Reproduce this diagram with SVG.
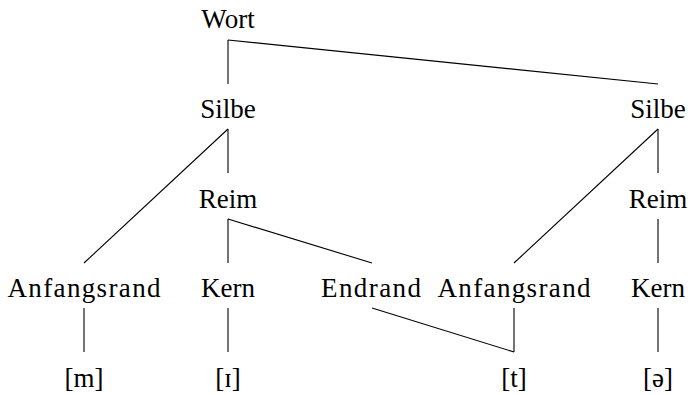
<svg xmlns="http://www.w3.org/2000/svg" width="690" height="395" viewBox="0 0 690 395">
<style>
text{font-family:"Liberation Serif","Times New Roman",serif;font-size:27px;fill:#000;text-anchor:middle}
.e line{stroke:#000;stroke-width:1.1;fill:none}
</style>
<rect width="690" height="395" fill="#fff"/>
<g class="e" id="connectors">
<line x1="228" y1="40" x2="228" y2="84"/>
<line x1="228" y1="40" x2="658" y2="84"/>
<line x1="228" y1="129" x2="84" y2="263"/>
<line x1="228" y1="129" x2="228" y2="173"/>
<line x1="658" y1="129" x2="514" y2="263"/>
<line x1="658" y1="129" x2="658" y2="173"/>
<line x1="228" y1="219" x2="228" y2="263"/>
<line x1="228" y1="219" x2="372" y2="263"/>
<line x1="658" y1="219" x2="658" y2="263"/>
<line x1="84" y1="308" x2="84" y2="352"/>
<line x1="228" y1="308" x2="228" y2="352"/>
<line x1="372" y1="308" x2="514" y2="352"/>
<line x1="514" y1="308" x2="514" y2="352"/>
<line x1="658" y1="308" x2="658" y2="352"/>
</g>
<g id="wort"><text x="228" y="28">Wort</text></g>
<g id="silbe1"><text x="228" y="118">Silbe</text></g>
<g id="silbe2"><text x="658" y="118">Silbe</text></g>
<g id="reim1"><text x="228" y="208">Reim</text></g>
<g id="reim2"><text x="658" y="208">Reim</text></g>
<g id="anfangsrand1"><text x="84" y="297" textLength="153" lengthAdjust="spacing">Anfangsrand</text></g>
<g id="kern1"><text x="228" y="297">Kern</text></g>
<g id="endrand"><text x="371" y="297" textLength="100" lengthAdjust="spacing">Endrand</text></g>
<g id="anfangsrand2"><text x="514" y="297" textLength="153" lengthAdjust="spacing">Anfangsrand</text></g>
<g id="kern2"><text x="658" y="297">Kern</text></g>
<g id="m"><text x="84" y="387">[m]</text></g>
<g id="i"><text x="228" y="387">[ɪ]</text></g>
<g id="t"><text x="514" y="387">[t]</text></g>
<g id="schwa"><text x="658" y="387">[ə]</text></g>
</svg>
